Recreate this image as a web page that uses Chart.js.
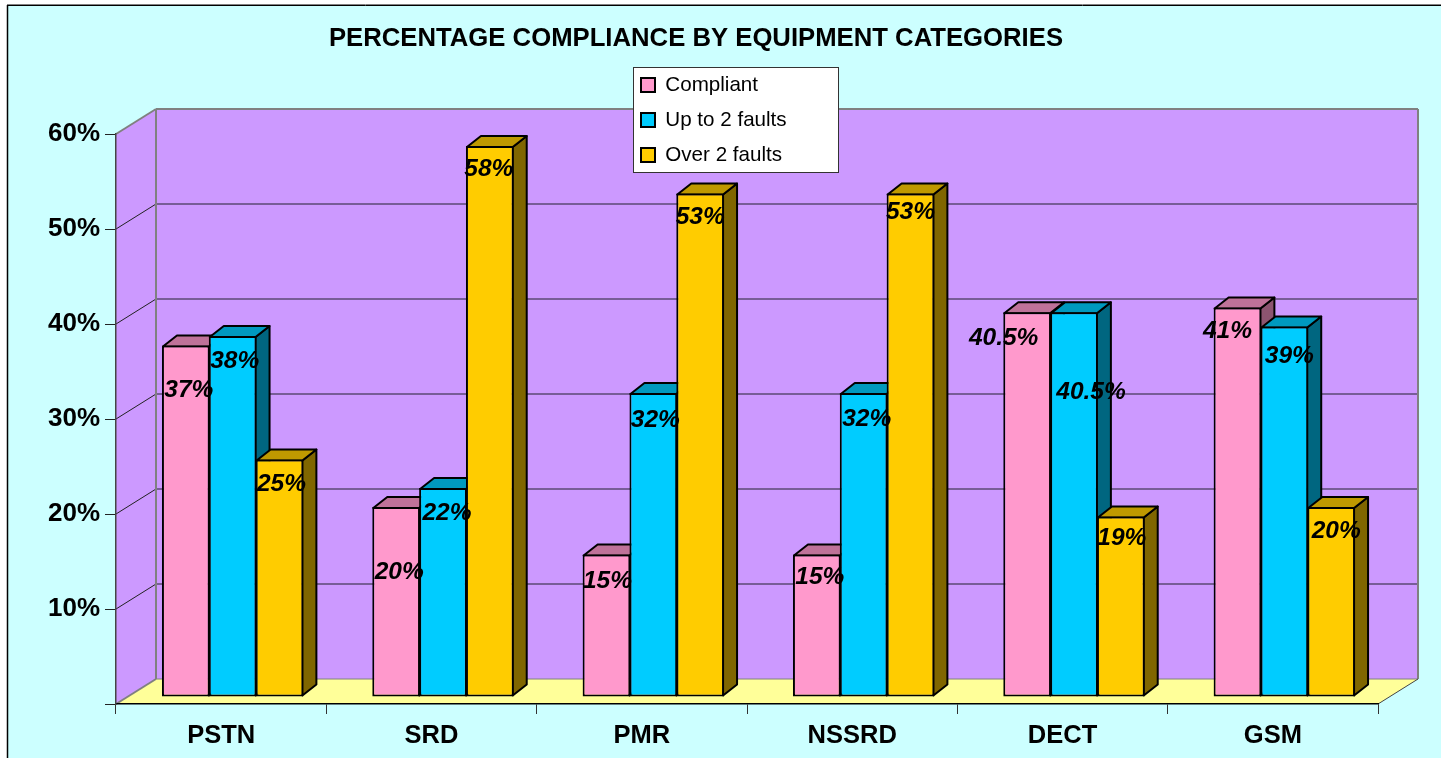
<!DOCTYPE html>
<html>
<head>
<meta charset="utf-8">
<style>html,body{margin:0;padding:0;background:#fff}canvas{display:block}</style>
<script src="https://cdn.jsdelivr.net/npm/chart.js@4"></script>
</head>
<body>
<canvas id="c" width="1444" height="758"></canvas>
<script>
const titleText = 'PERCENTAGE COMPLIANCE BY EQUIPMENT CATEGORIES';
const categories = ['PSTN', 'SRD', 'PMR', 'NSSRD', 'DECT', 'GSM'];
const compliant = [37, 20, 15, 15, 40.5, 41];
const upTo2 = [38, 22, 32, 32, 40.5, 39];
const over2 = [25, 58, 53, 53, 19, 20];
const yMax = 60, yStep = 10;

// hand-placed label nudges in the original, relative to each bar's top centre
const labelNudge = [
  [[3,45],[3,65],[1,27],[3,23],[-23.5,26],[-10,24]],
  [[2,25],[4,25],[2,27],[3,26],[17,80],[5,30]],
  [[2,25],[-1,23],[0,24],[0,19],[1,22],[5,24]]
];

const FONT = '"Liberation Sans", Arial, sans-serif';
const WALL = {dx: 40, dy: -25};   // depth of the whole box
const BAR = {sx: 11.5, sy: -7, dx: 14, dy: -11}; // bar plane shift, bar depth
const shades = [
  {cap:'#BF7299', side:'#8C5470'},
  {cap:'#0099BF', side:'#006680'},
  {cap:'#BF9900', side:'#806600'}
];

function line(ctx, x1, y1, x2, y2, color, w) {
  ctx.strokeStyle = color; ctx.lineWidth = w;
  ctx.beginPath(); ctx.moveTo(x1, y1); ctx.lineTo(x2, y2); ctx.stroke();
}
function poly(ctx, pts, fill, stroke, w) {
  ctx.beginPath();
  pts.forEach((p, i) => i ? ctx.lineTo(p[0], p[1]) : ctx.moveTo(p[0], p[1]));
  ctx.closePath();
  if (fill) { ctx.fillStyle = fill; ctx.fill(); }
  if (stroke) { ctx.strokeStyle = stroke; ctx.lineWidth = w; ctx.lineJoin = 'round'; ctx.stroke(); }
}

const box3d = {
  id: 'box3d',
  afterLayout(chart) {
    const t = chart.titleBlock;
    t.left = 0; t.right = 1392;
    const l = chart.legend, p = l.options.labels.padding;
    l.left = 641 - p; l.right = 900; l.top = 74.7 - p; l.bottom = 400;
    l.width = l.right - l.left; l.height = l.bottom - l.top;
  },
  beforeDraw(chart) {
    const ctx = chart.ctx, {left: L, right: R} = chart.chartArea, y = chart.scales.y;
    const T = y.getPixelForValue(yMax), B = y.getPixelForValue(0);
    const dx = WALL.dx, dy = WALL.dy;
    ctx.save();
    ctx.fillStyle = '#fff'; ctx.fillRect(0, 0, chart.width, chart.height);
    ctx.fillStyle = '#CCFFFF'; ctx.fillRect(7, 5, 1434, 760);
    line(ctx, 7, 4.5, 1441, 4.5, '#808080', 1);
    line(ctx, 7, 5.5, 1441, 5.5, '#000', 1);
    line(ctx, 7.5, 5, 7.5, 758, '#000', 1.5);

    poly(ctx, [[L+dx,T+dy],[R+dx,T+dy],[R+dx,B+dy],[L+dx,B+dy]], '#CC99FF');
    poly(ctx, [[L,T],[L+dx,T+dy],[L+dx,B+dy],[L,B]], '#CC99FF');
    poly(ctx, [[L,B],[L+dx,B+dy],[R+dx,B+dy],[R,B]], '#FFFF99');

    y.ticks.forEach(tk => {
      if (tk.value === 0 || tk.value === yMax) return;
      const py = y.getPixelForValue(tk.value);
      line(ctx, L, py, L+dx, py+dy, '#222', 1);
      line(ctx, L+dx, py+dy, R+dx, py+dy, '#5B4A75', 1.5);
    });
    line(ctx, L, T, L+dx, T+dy, '#808080', 2);
    line(ctx, L+dx, T+dy, R+dx, T+dy, '#808080', 2);
    line(ctx, R+dx, T+dy, R+dx, B+dy, '#808080', 2);
    line(ctx, L+dx, T+dy, L+dx, B+dy, '#808080', 2);
    line(ctx, L+dx, B+dy, R+dx, B+dy, '#808080', 1);
    line(ctx, L, B, L+dx, B+dy, '#808080', 2);
    line(ctx, R, B, R+dx, B+dy, '#444', 1);

    // legend panel
    ctx.fillStyle = '#fff'; ctx.fillRect(634, 68, 204, 104);
    ctx.strokeStyle = '#333'; ctx.lineWidth = 1; ctx.strokeRect(633.5, 67.5, 205, 105);
    ctx.restore();
  },
  beforeDatasetsDraw(chart) {
    const ctx = chart.ctx;
    ctx.save();
    ctx.translate(BAR.sx, BAR.sy);
    chart.data.datasets.forEach((ds, i) => {
      const meta = chart.getDatasetMeta(i);
      meta.data.forEach(el => {
        const l = el.x - el.width / 2, r = el.x + el.width / 2, t = el.y, b = el.base;
        const d = BAR.dx, e = BAR.dy;
        poly(ctx, [[r-1,t+1],[r-1+d,t+1+e],[r-1+d,b-1+e],[r-1,b-1]], shades[i].side, '#000', 2);
        poly(ctx, [[l+1,t+1],[l+1+d,t+1+e],[r-1+d,t+1+e],[r-1,t+1]], shades[i].cap, '#000', 2);
      });
      meta.controller.draw();
    });
    ctx.restore();
    return false;
  },
  afterDraw(chart) {
    const ctx = chart.ctx;
    ctx.save();
    ctx.font = 'italic bold 24.5px ' + FONT;
    ctx.fillStyle = '#000'; ctx.textAlign = 'center'; ctx.textBaseline = 'middle';
    chart.data.datasets.forEach((ds, i) => {
      chart.getDatasetMeta(i).data.forEach((el, j) => {
        const n = labelNudge[i][j];
        ctx.fillText(ds.data[j] + '%', el.x + BAR.sx + n[0], el.y + BAR.sy + n[1]);
      });
    });
    ctx.restore();
  }
};

new Chart(document.getElementById('c'), {
  type: 'bar',
  data: {
    labels: categories,
    datasets: [
      {label: 'Compliant', data: compliant, backgroundColor: '#FF99CC'},
      {label: 'Up to 2 faults', data: upTo2, backgroundColor: '#00CCFF'},
      {label: 'Over 2 faults', data: over2, backgroundColor: '#FFCC00'}
    ]
  },
  plugins: [box3d],
  options: {
    responsive: false,
    animation: false,
    devicePixelRatio: 1,
    layout: {padding: {top: 0, left: 0, right: 66, bottom: 0}},
    datasets: {bar: {categoryPercentage: 0.668, barPercentage: 1.02, borderColor: '#000', borderWidth: 2, borderSkipped: false}},
    plugins: {
      tooltip: {enabled: false},
      title: {
        display: true, text: titleText, color: '#000',
        font: {family: FONT, size: 25.7, weight: 'bold'},
        padding: {top: 23.6, bottom: 79.56}
      },
      legend: {
        display: true, position: 'chartArea', align: 'start',
        labels: {boxWidth: 14, boxHeight: 14, padding: 14.4, color: '#000', font: {family: FONT, size: 20.6}}
      }
    },
    scales: {
      x: {
        afterFit: s => { s.height = 54; },
        grid: {drawOnChartArea: false, drawTicks: true, tickLength: 10, color: '#333', offset: true},
        border: {color: '#000', width: 1.5},
        ticks: {color: '#000', padding: 7, font: {family: FONT, size: 25.5, weight: 'bold'}, maxRotation: 0}
      },
      y: {
        min: 0, max: yMax,
        afterFit: s => { s.width = 116; },
        grid: {drawOnChartArea: false, drawTicks: true, tickLength: 11, color: '#222'},
        border: {color: '#444', width: 1.5},
        ticks: {
          stepSize: yStep, color: '#000', padding: 5,
          font: {family: FONT, size: 26, weight: 'bold'},
          callback: v => v === 0 ? '' : v + '%'
        }
      }
    }
  }
});
</script>
</body>
</html>
